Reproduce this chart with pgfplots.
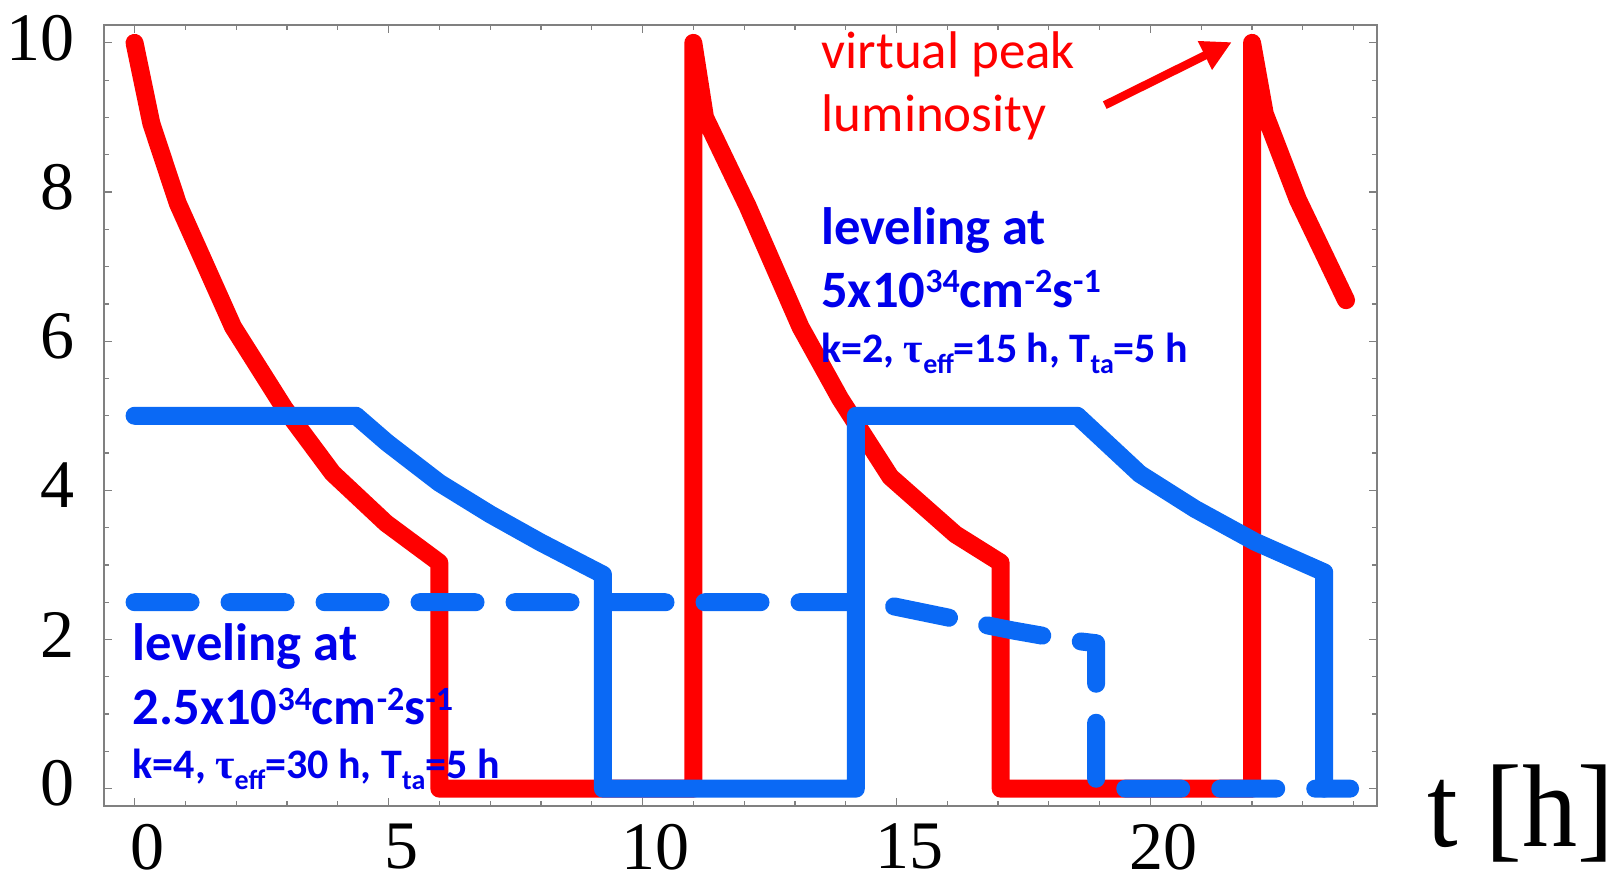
\documentclass[border=0pt]{standalone}
\usepackage{fontspec}
\setmainfont{Liberation Serif}
\newfontfamily\calibri{Carlito}
\usepackage{pgfplots}
\pgfplotsset{compat=1.18}
\usetikzlibrary{arrows.meta}
\definecolor{lred}{RGB}{255,0,0}
\definecolor{lblue}{RGB}{10,105,245}
\definecolor{tblue}{RGB}{0,0,235}
\definecolor{framegray}{RGB}{128,128,128}
\newcommand\sps[1]{\raisebox{0.28em}{\fontsize{17}{17}\selectfont #1}}
\newcommand\sbs[1]{\raisebox{-0.27em}{\fontsize{14}{14}\selectfont #1}}
\newcommand\tausym{{\fontspec{Liberation Serif}τ}}
\begin{document}
\begin{tikzpicture}
\begin{axis}[
 scale only axis, width=636.4pt, height=390.5pt,
 xmin=-0.596, xmax=24.46, ymin=-0.232, ymax=10.24,
 xtick={0,5,...,25}, ytick={0,2,...,10},
 minor x tick num=4, minor y tick num=3,
 major tick length=4pt, minor tick length=2.3pt,
 tick style={framegray, line width=0.6pt},
 axis line style={framegray, line width=1pt},
 tick align=inside,
 /pgf/number format/assume math mode=true,
 ticklabel style={font=\fontsize{34}{34}\selectfont, inner sep=0pt},
 xticklabel style={anchor=north, yshift=-8.8pt, xshift=6.5pt},
 yticklabel style={anchor=east, xshift=-14.6pt, yshift=2.5pt},
 clip=false,
]
% red: peak luminosity without leveling
\addplot[lred, line width=9pt, line cap=round, line join=round] coordinates {
 (0,10) (0.33,8.92) (0.85,7.85) (1.94,6.19) (2.95,5.1) (3.9,4.23) (4.95,3.56) (6,3.03)
 (6,0) (11,0)
 (11,10) (11.23,9.0) (12.07,7.81) (13.11,6.19) (13.89,5.23) (14.88,4.18) (16.16,3.41) (17.05,3.03)
 (17.05,0) (22,0)
 (22,10) (22.25,9.05) (22.9,7.9) (23.85,6.55)
};
% blue solid: leveling at 5
\addplot[lblue, line width=9pt, line cap=round, line join=round] coordinates {
 (0,5) (4.36,5) (4.97,4.64) (6.0,4.1) (7.0,3.68) (8.0,3.3) (9.22,2.87)
 (9.22,0) (14.2,0)
 (14.2,5) (18.56,5) (19.79,4.22) (20.88,3.75) (22.06,3.31) (23.42,2.9)
 (23.42,0)
};
% blue dashed: leveling at 2.5
\addplot[lblue, line width=9pt, line cap=round, line join=round, dash pattern=on 28pt off 19.5pt] coordinates {
 (0,2.5) (14.55,2.5) (16.05,2.29) (17.3,2.12) (18.3,2.0) (18.93,1.95)
 (18.93,0) (23.93,0)
};
\coordinate (ll) at (rel axis cs:0,0);
\coordinate (ur) at (rel axis cs:1,1);
% annotations
\node[anchor=base west, inner sep=0pt, text=lred, font=\calibri\fontsize{26.5}{31.6}\selectfont] at (axis cs:13.52,9.658) {virtual peak};
\node[anchor=base west, inner sep=0pt, text=lred, font=\calibri\fontsize{26.5}{31.6}\selectfont] at (axis cs:13.52,8.811) {luminosity};
\draw[lred, line width=4.2pt, -{Triangle[length=15pt,width=15pt]}] (axis cs:19.1,9.165) -- (axis cs:21.6,10.01);
\node[anchor=base west, inner sep=0pt, text=tblue, font=\calibri\bfseries\fontsize{26.3}{31.6}\selectfont] at (axis cs:13.51,7.297) {leveling at};
\node[anchor=base west, inner sep=0pt, text=tblue, font=\calibri\bfseries\fontsize{26.3}{31.6}\selectfont] at (axis cs:13.51,6.45) {5x10\sps{34}cm\sps{-2}s\sps{-1}};
\node[anchor=base west, inner sep=0pt, text=tblue, font=\calibri\bfseries\fontsize{21}{24}\selectfont] at (axis cs:13.51,5.718) {k=2, \tausym\sbs{eff}=15 h, T\sbs{ta}=5 h};
\node[anchor=base west, inner sep=0pt, text=tblue, font=\calibri\bfseries\fontsize{26.3}{31.6}\selectfont] at (axis cs:-0.045,1.725) {leveling at};
\node[anchor=base west, inner sep=0pt, text=tblue, font=\calibri\bfseries\fontsize{26.3}{31.6}\selectfont] at (axis cs:-0.045,0.854) {2.5x10\sps{34}cm\sps{-2}s\sps{-1}};
\node[anchor=base west, inner sep=0pt, text=tblue, font=\calibri\bfseries\fontsize{21}{24}\selectfont] at (axis cs:-0.045,0.139) {k=4, \tausym\sbs{eff}=30 h, T\sbs{ta}=5 h};
\node[anchor=base west, inner sep=0pt, font=\fontsize{55}{55}\selectfont] at (axis cs:25.45,-0.777) {\scalebox{1}[1.07]{t [h]}};
\end{axis}
\pgfresetboundingbox
\path ([shift={(-52.15pt,-36.5pt)}]ll) rectangle ([shift={(123pt,12.5pt)}]ur);
\end{tikzpicture}
\end{document}
